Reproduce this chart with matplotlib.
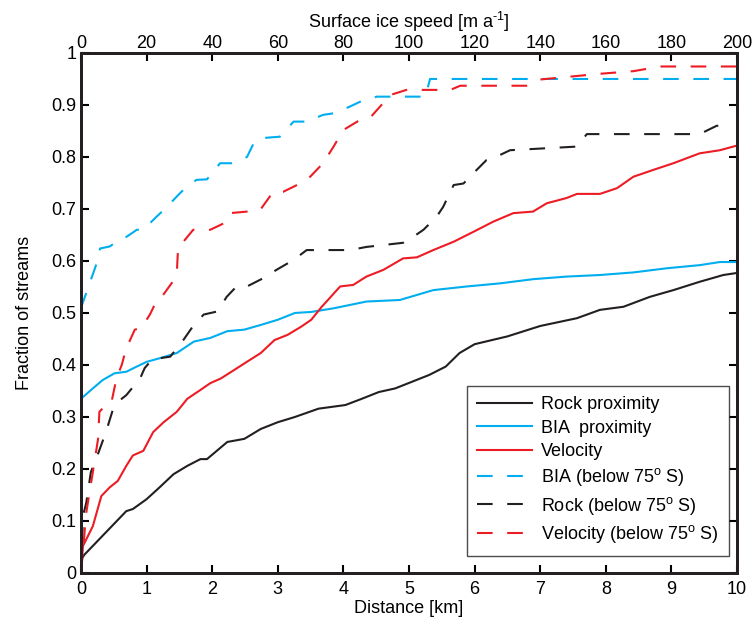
import matplotlib
matplotlib.use('Agg')
import matplotlib.pyplot as plt
from matplotlib.lines import Line2D
from matplotlib.ticker import FormatStrFormatter

plt.rcParams['font.family'] = ['Liberation Sans', 'DejaVu Sans']
plt.rcParams['mathtext.fontset'] = 'custom'
plt.rcParams['mathtext.rm'] = 'Liberation Sans'

# Distance-based curves (km)
rock_x = [0, 0.05, 0.69, 0.79, 1.0, 1.2, 1.41, 1.62, 1.82, 1.92, 2.23, 2.49, 2.74, 3.0, 3.26,
          3.62, 4.03, 4.28, 4.54, 4.79, 5.05, 5.31, 5.56, 5.77, 6.0, 6.5, 7.0, 7.56, 7.91,
          8.27, 8.67, 9.03, 9.43, 9.79, 10.0]
rock_y = [0.025, 0.035, 0.119, 0.123, 0.142, 0.165, 0.19, 0.206, 0.219, 0.219, 0.252, 0.258,
          0.277, 0.29, 0.30, 0.316, 0.323, 0.335, 0.348, 0.355, 0.368, 0.381, 0.397, 0.423,
          0.44, 0.455, 0.475, 0.49, 0.506, 0.512, 0.531, 0.544, 0.560, 0.573, 0.577]

bia_x = [0, 0.18, 0.33, 0.51, 0.69, 0.85, 1.0, 1.2, 1.46, 1.72, 1.97, 2.23, 2.49, 2.74, 3.0,
         3.26, 3.51, 3.85, 4.35, 4.86, 5.37, 5.88, 6.39, 6.89, 7.40, 7.91, 8.42, 8.93, 9.43,
         9.74, 10.0]
bia_y = [0.335, 0.355, 0.371, 0.384, 0.387, 0.397, 0.406, 0.413, 0.423, 0.445, 0.452, 0.465,
         0.468, 0.477, 0.487, 0.5, 0.502, 0.509, 0.522, 0.525, 0.544, 0.551, 0.557, 0.565,
         0.570, 0.573, 0.578, 0.586, 0.592, 0.598, 0.598]

bia_s_x = [0, 0.24, 0.29, 0.44, 0.57, 0.70, 0.85, 0.95, 1.15, 1.31, 1.46, 1.61, 1.76, 1.92,
           2.12, 2.32, 2.53, 2.63, 2.73, 3.03, 3.24, 3.44, 3.69, 3.85, 4.10, 4.25, 4.51, 5.25,
           5.32, 10.0]
bia_s_y = [0.51, 0.596, 0.624, 0.628, 0.64, 0.647, 0.66, 0.66, 0.685, 0.704, 0.724, 0.743,
           0.756, 0.757, 0.788, 0.788, 0.80, 0.826, 0.836, 0.839, 0.868, 0.868, 0.881, 0.884,
           0.897, 0.906, 0.916, 0.916, 0.95, 0.95]

rock_s_x = [0, 0.03, 0.08, 0.15, 0.23, 0.38, 0.49, 0.56, 0.69, 0.9, 0.97, 1.1, 1.2, 1.36,
            1.56, 1.72, 1.87, 2.08, 2.22, 2.37, 2.53, 2.78, 2.98, 3.24, 3.44, 4.10, 4.35,
            4.91, 5.07, 5.22, 5.42, 5.52, 5.68, 5.83, 6.03, 6.18, 6.39, 6.54, 7.56, 7.71,
            9.43, 9.69, 9.88]
rock_s_y = [0, 0.11, 0.135, 0.194, 0.219, 0.271, 0.316, 0.329, 0.342, 0.374, 0.394, 0.413,
            0.413, 0.416, 0.448, 0.477, 0.497, 0.503, 0.531, 0.551, 0.551, 0.567, 0.583,
            0.602, 0.621, 0.621, 0.627, 0.635, 0.647, 0.66, 0.685, 0.704, 0.746, 0.749,
            0.775, 0.794, 0.804, 0.813, 0.82, 0.844, 0.844, 0.86, 0.86]

# Speed-based curves (m/a, top axis)
vel_x = [0, 0.6, 3.6, 6.2, 8.8, 11.2, 13.8, 15.8, 19, 22, 25.2, 29.2, 32.4, 36.4, 39.4, 42.6,
         46.6, 49.8, 54.8, 59, 63, 67.2, 70.2, 73.4, 79, 83, 87, 92.2, 98.2, 102.4, 107.4,
         113.6, 119.6, 125.8, 131.8, 137.8, 142, 148, 151.2, 158.2, 163.4, 168.4, 174.4,
         180.6, 188.6, 194.8, 200]
vel_y = [0, 0.052, 0.09, 0.148, 0.165, 0.177, 0.206, 0.226, 0.235, 0.271, 0.29, 0.31, 0.335,
         0.352, 0.365, 0.374, 0.39, 0.403, 0.423, 0.448, 0.458, 0.474, 0.487, 0.512, 0.551,
         0.554, 0.57, 0.583, 0.605, 0.607, 0.621, 0.637, 0.656, 0.676, 0.692, 0.695, 0.711,
         0.721, 0.729, 0.729, 0.74, 0.762, 0.775, 0.788, 0.807, 0.813, 0.822]

vel_s_x = [0, 1.6, 3.6, 5.2, 5.6, 7.6, 9.2, 10.8, 12.4, 13.8, 16.4, 18.4, 21, 23, 24.6, 27.6,
           29.2, 29.6, 31.2, 34.2, 39.4, 43.4, 45.4, 50.6, 54.6, 58.6, 61.6, 66.8, 69.4, 73.8,
           77, 80, 85, 88.2, 91.6, 94.2, 99.2, 112.6, 115.6, 135.8, 140, 158.2, 168.4, 176.6,
           200]
vel_s_y = [0, 0.116, 0.194, 0.258, 0.31, 0.323, 0.326, 0.374, 0.4, 0.432, 0.468, 0.471, 0.497,
           0.523, 0.531, 0.557, 0.576, 0.627, 0.637, 0.66, 0.66, 0.672, 0.692, 0.695, 0.698,
           0.733, 0.733, 0.749, 0.759, 0.788, 0.82, 0.852, 0.871, 0.876, 0.9, 0.919, 0.929,
           0.929, 0.937, 0.937, 0.949, 0.96, 0.965, 0.974, 0.974]

black = '#231f20'
blue = '#00aeef'
red = '#ed1c24'
dash = (0, (7.5, 7))
fs = 13

fig = plt.figure(figsize=(7.53, 6.21), dpi=100)
ax = fig.add_axes([0.1076, 0.0773, 0.8712, 0.8374])
ax2 = ax.twiny()

ax.plot(rock_x, rock_y, color=black, lw=1.5)
ax.plot(bia_x, bia_y, color=blue, lw=1.5)
ax2.plot(vel_x, vel_y, color=red, lw=1.5)
ax.plot(bia_s_x, bia_s_y, color=blue, lw=1.5, linestyle=dash)
ax.plot(rock_s_x, rock_s_y, color=black, lw=1.5, linestyle=dash)
ax2.plot(vel_s_x, vel_s_y, color=red, lw=1.5, linestyle=dash)

ax.set_xlim(0, 10)
ax.set_ylim(0, 1)
ax2.set_xlim(0, 200)
ax.set_xticks(range(0, 11))
ax.set_yticks([i / 10 for i in range(11)])
ax.yaxis.set_major_formatter(FormatStrFormatter('%g'))
ax2.set_xticks(range(0, 201, 20))

ax.tick_params(direction='in', length=6, width=1.5, labelsize=fs, right=True, top=False)
ax.tick_params(axis='x', pad=6)
ax2.tick_params(direction='in', length=6, width=1.5, labelsize=fs, pad=1)
for a in (ax, ax2):
    for s in a.spines.values():
        s.set_linewidth(2)
        s.set_color(black)

ax.set_xlabel('Distance [km]', fontsize=fs, labelpad=1)
ax.set_ylabel('Fraction of streams', fontsize=fs, labelpad=13)
ax2.set_xlabel(r'Surface ice speed [m a$^{\text{-1}}$]', fontsize=fs, labelpad=5)

handles = [
    Line2D([], [], color=black, lw=1.5),
    Line2D([], [], color=blue, lw=1.5),
    Line2D([], [], color=red, lw=1.5),
    Line2D([], [], color=blue, lw=1.5, linestyle=dash),
    Line2D([], [], color=black, lw=1.5, linestyle=dash),
    Line2D([], [], color=red, lw=1.5, linestyle=dash),
]
labels = ['Rock proximity', 'BIA  proximity', 'Velocity',
          r'BIA (below 75$^{\rm o}$ S)', r'Rock (below 75$^{\rm o}$ S)',
          r'Velocity (below 75$^{\rm o}$ S)']
leg = ax2.legend(handles, labels, loc='lower right', bbox_to_anchor=(0.988, 0.033),
                 borderaxespad=0, fancybox=False, edgecolor=black, fontsize=fs,
                 handlelength=3.0, handletextpad=0.5, labelspacing=0.35,
                 borderpad=0.6)
leg.get_frame().set_linewidth(1.0)

fig.savefig('out.png', dpi=100)
